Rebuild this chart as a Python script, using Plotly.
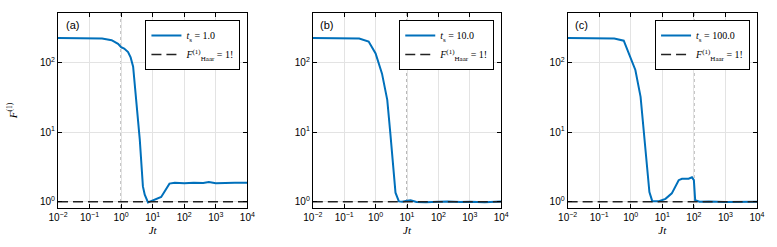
import plotly.graph_objects as go

# ---- data ----
panel_labels = ["(a)", "(b)", "(c)"]
ts_values = [1.0, 10.0, 100.0]
ts_labels = ["1.0", "10.0", "100.0"]
haar_value = 1.0
x_range_jt = [1e-2, 1e4]

jt_a = [0.01, 0.03, 0.1, 0.25, 0.5, 0.8, 1.0, 1.25, 1.66, 2.0, 2.4, 3.0, 3.9, 4.9, 5.6, 7.1,
        10, 18.6, 34, 50, 100, 200, 400, 600, 1000, 2000, 4000, 10000]
f_a = [225, 225, 225, 221, 209, 185, 166, 158, 141, 118, 87, 29, 7.8, 1.66, 1.26, 0.98,
       1.05, 1.17, 1.82, 1.87, 1.85, 1.88, 1.86, 1.92, 1.85, 1.84, 1.87, 1.88]

jt_b = [0.01, 0.03, 0.1, 0.3, 0.6, 1.0, 1.6, 2.35, 2.95, 3.8, 4.3, 5.5, 7, 10, 13, 20, 40,
        100, 200, 500, 1000, 3000, 10000]
f_b = [225, 225, 225, 220, 200, 135, 69, 29, 9.5, 2.57, 1.35, 1.01, 1.0, 1.03, 1.05, 0.99, 0.98,
       1.0, 1.01, 0.99, 1.0, 0.98, 1.01]

jt_c = [0.01, 0.03, 0.1, 0.3, 0.6, 0.87, 1.4, 2.05, 2.57, 3.3, 3.9, 4.8, 7.8, 12.6, 20, 33, 42,
        68, 87, 100, 110, 150, 300, 1000, 3000, 10000]
f_c = [225, 225, 225, 220, 205, 135, 78, 32, 10.7, 2.8, 1.38, 1.02, 1.02, 1.1, 1.32, 2.04, 2.14,
       2.14, 2.24, 2.04, 1.05, 1.0, 1.01, 0.99, 1.0, 1.0]

x_tickvals = [1e-2, 1e-1, 1e0, 1e1, 1e2, 1e3, 1e4]
x_ticktext = ["10<sup>−2</sup>", "10<sup>−1</sup>", "10<sup>0</sup>", "10<sup>1</sup>",
              "10<sup>2</sup>", "10<sup>3</sup>", "10<sup>4</sup>"]
y_tickvals = [1, 10, 100]
y_ticktext = ["10<sup>0</sup>", "10<sup>1</sup>", "10<sup>2</sup>"]

# ---- styling ----
BLUE = "#0070BB"
W, H = 777, 247
ml, mr, mt, mb = 56, 16, 13, 39
pw = W - ml - mr
ph = H - mt - mb
panel_px = [(56, 247), (313, 503), (570, 761)]
domains = [[(a - ml) / pw, (b - ml) / pw] for a, b in panel_px]

serif = "Liberation Serif"
sans = "Liberation Sans"

fig = go.Figure()
series = [(jt_a, f_a), (jt_b, f_b), (jt_c, f_c)]
shapes = []
annotations = []
for i, ((jt, f), ts, tsl) in enumerate(zip(series, ts_values, ts_labels)):
    sfx = "" if i == 0 else str(i + 1)
    leg = "legend" if i == 0 else f"legend{i + 1}"
    fig.add_trace(go.Scatter(
        x=jt, y=f, mode="lines", line=dict(color=BLUE, width=2),
        name=f"<i>t</i><sub>s</sub> = {tsl}",
        xaxis="x" + sfx, yaxis="y" + sfx, legend=leg))
    fig.add_trace(go.Scatter(
        x=x_range_jt, y=[haar_value, haar_value], mode="lines",
        line=dict(color="#222222", width=1.5, dash="10px,5px"),
        name="<i>F</i><sup>(1)</sup><sub>Haar</sub> = 1!",
        xaxis="x" + sfx, yaxis="y" + sfx, legend=leg))
    shapes.append(dict(type="line", xref="x" + sfx, yref=f"y{sfx} domain",
                       x0=ts, x1=ts, y0=0, y1=1,
                       line=dict(color="#888888", width=1.2, dash="dot"), layer="below"))
    annotations.append(dict(text=panel_labels[i], xref=f"x{sfx} domain", yref=f"y{sfx} domain",
                            x=0.03, y=0.94, xanchor="left", yanchor="middle", showarrow=False,
                            font=dict(family=sans, size=11, color="black")))
    axcommon = dict(showline=True, linecolor="black", linewidth=1, mirror="allticks",
                    ticks="inside", ticklen=4, tickcolor="black", showgrid=True,
                    gridcolor="#e3e3e3", gridwidth=1, zeroline=False,
                    tickfont=dict(family=sans, size=10, color="black"))
    fig.update_layout(**{
        "xaxis" + sfx: dict(type="log", domain=domains[i], range=[-2, 4],
                            tickvals=x_tickvals, ticktext=x_ticktext, anchor="y" + sfx,
                            title=dict(text="<i>Jt</i>",
                                       font=dict(family=serif, size=11, color="black"),
                                       standoff=4),
                            **axcommon),
        "yaxis" + sfx: dict(type="log", domain=[0, 1], range=[-0.09, 2.71],
                            tickvals=y_tickvals, ticktext=y_ticktext, anchor="x" + sfx,
                            title=dict(text="<i>F</i><sup>(1)</sup>" if i == 0 else "",
                                       font=dict(family=serif, size=11, color="black"),
                                       standoff=20),
                            **axcommon),
    })
    legx = (panel_px[i][1] - 7 - ml) / pw
    fig.update_layout(**{leg: dict(x=legx, y=(ph - (20 - mt)) / ph, xanchor="right",
                                   yanchor="top", bgcolor="white", bordercolor="black",
                                   borderwidth=1, font=dict(family=serif, size=10, color="black"),
                                   itemwidth=30, tracegroupgap=0)})

fig.update_layout(width=W, height=H, margin=dict(l=ml, r=mr, t=mt, b=mb),
                  plot_bgcolor="white", paper_bgcolor="white", showlegend=True,
                  shapes=shapes, annotations=annotations)
fig.write_html("out.html", config={"displayModeBar": False},
               post_script="document.body.style.margin='0';")
